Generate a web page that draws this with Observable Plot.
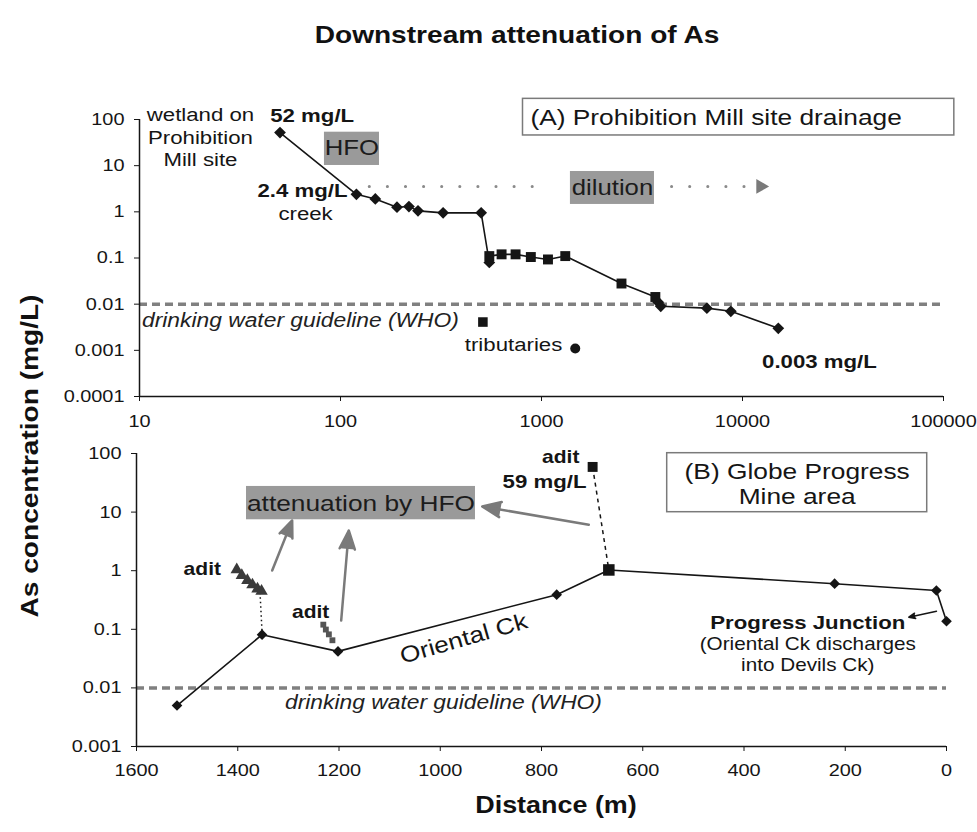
<!DOCTYPE html>
<html><head><meta charset="utf-8">
<script src="https://cdn.jsdelivr.net/npm/d3@7"></script>
<script src="https://cdn.jsdelivr.net/npm/@observablehq/plot@0.6"></script>
<style>
body{margin:0;background:#fff;font-family:"Liberation Sans",Arial,sans-serif;color:#111;}
#wrap{position:relative;width:977px;height:832px;overflow:hidden;background:#fff;}
.lab{position:absolute;text-align:center;font-weight:bold;height:30px;line-height:30px;white-space:nowrap;}
#title{left:217px;width:600px;top:20px;font-size:24px;transform:scaleX(1.17);}
#ylab{left:-270px;width:600px;top:441px;font-size:24px;transform:rotate(-90deg) scaleX(1.17);}
#xlab{left:256px;width:600px;top:790px;font-size:23px;transform:scaleX(1.17);}
</style></head>
<body><div id="wrap">
<div id="title" class="lab">Downstream attenuation of As</div>
<div id="ylab" class="lab">As concentration (mg/L)</div>
<div id="xlab" class="lab">Distance (m)</div>
</div>
<script>
// ---------- Panel A: Prohibition Mill site drainage ----------
const aXTicks = [10, 100, 1000, 10000, 100000];
const aYTicks = [0.0001, 0.001, 0.01, 0.1, 1, 10, 100];
const aDist = [50, 120, 149, 191, 219, 243, 324, 501, 550, 550, 633, 743, 885, 1077, 1313, 2500, 3685, 3808, 3920, 6650, 8750, 15070];
const aConc = [52, 2.4, 1.9, 1.26, 1.3, 1.05, 0.95, 0.95, 0.08, 0.11, 0.12, 0.12, 0.105, 0.093, 0.11, 0.028, 0.0143, 0.011, 0.009, 0.0082, 0.007, 0.003];
const aSymbol = ["diamond2","diamond2","diamond2","diamond2","diamond2","diamond2","diamond2","diamond2","diamond2","square","square","square","square","square","square","square","square","diamond2","diamond2","diamond2","diamond2","diamond2"];
const tribDist = [511, 1472];
const tribConc = [0.0041, 0.0011];
const tribSymbol = ["square", "circle"];
const guideline = [0.01];

// annotations, in data units
const aPlain = [{x: 20.1, y: 42.9, text: "wetland on\nProhibition\nMill site"}, {x: 67, y: 0.94, text: "creek"}, {x: 726, y: 0.00135, text: "tributaries"}];
const aBold = [{x: 72.3, y: 122, text: "52 mg/L"}, {x: 64.7, y: 2.9, text: "2.4 mg/L"}, {x: 24150, y: 0.00056, text: "0.003 mg/L"}];
const aItalic = [{x: 63.2, y: 0.00446, text: "drinking water guideline (WHO)"}];
const aGrayBoxes = [{x1: 83.2, x2: 156.3, y1: 10.1, y2: 53.1}, {x1: 1393, x2: 3648, y1: 1.445, y2: 7.48}];
const aGrayText = [{x: 114, y: 23.6, text: "HFO"}, {x: 2254, y: 3.29, text: "dilution"}];
const aFrame = [{x1: 809, x2: 113200, y1: 45.1, y2: 280}];
const aFrameText = [{x: 881, y: 110, text: "(A) Prohibition Mill site drainage"}];
const aDilution = [{x1: 139, x2: 1047, y: 3.55}, {x1: 4436, x2: 10960, y: 3.55}];
const aDilutionHead = [{x: 12300, y: 3.55}];

// ---------- Panel B: Globe Progress Mine area ----------
const bXTicks = [1600, 1400, 1200, 1000, 800, 600, 400, 200, 0];
const bYTicks = [0.001, 0.01, 0.1, 1, 10, 100];
const bDist = [1520, 1352, 1202, 770, 667, 221, 20, 0];
const bConc = [0.005, 0.081, 0.042, 0.39, 1.03, 0.60, 0.46, 0.137];
const bSymbol = ["diamond2","diamond2","diamond2","diamond2","square","diamond2","diamond2","diamond2"];
const aditTopDist = [699];
const aditTopConc = [59];
const aditTriDist = [1402, 1392, 1381, 1371, 1361, 1353];
const aditTriConc = [1.04, 0.83, 0.68, 0.575, 0.49, 0.447];
const aditSqDist = [1231, 1226, 1220, 1213];
const aditSqConc = [0.12, 0.099, 0.082, 0.065];

const bBold = [{x: 1470, y: 1.08, text: "adit", s: 18}, {x: 1256, y: 0.196, text: "adit", s: 18}, {x: 762, y: 86.4, text: "adit", s: 18}, {x: 794, y: 32.4, text: "59 mg/L", s: 19}, {x: 274, y: 0.127, text: "Progress Junction", s: 19}];
const bPlain = [{x: 274, y: 0.0376, text: "(Oriental Ck discharges\ninto Devils Ck)"}];
const bItalic = [{x: 993.6, y: 0.00564, text: "drinking water guideline (WHO)"}];
const bGrayBoxes = [{x1: 1382.7, x2: 930.4, y1: 7.39, y2: 27.4}];
const bGrayText = [{x: 1156.5, y: 14, text: "attenuation by HFO"}];
const bFrame = [{x1: 551.7, x2: 38.1, y1: 9.96, y2: 101.2}];
const bFrameText = [{x: 295, y: 30.2, text: "(B) Globe Progress\nMine area"}];
const bCreek = [{x: 953.5, y: 0.0689, text: "Oriental Ck"}];
const bGrayArrows = [{x1: 1332, y1: 1.008, x2: 1292.5, y2: 7.19}, {x1: 1195.7, y1: 0.141, x2: 1180.6, y2: 4.85}, {x1: 706.6, y1: 6.07, x2: 917.1, y2: 12.5}];
const bBlackArrow = [{x1: 19.8, y1: 0.204, x2: 74.5, y2: 0.161}];
const bDotted = [{x1: 1356, y1: 0.42, x2: 1352, y2: 0.09}];

const FONT = "Liberation Sans, Arial, Helvetica, sans-serif";
const K = 1.17;
const fmt = d => String(d);
const ink = "#151515";

const aRows = aDist.map((d, i) => ({d, c: aConc[i], s: aSymbol[i]}));
const tribRows = tribDist.map((d, i) => ({d, c: tribConc[i], s: tribSymbol[i]}));
const bRows = bDist.map((d, i) => ({d, c: bConc[i], s: bSymbol[i]}));
const triRows = aditTriDist.map((d, i) => ({d, c: aditTriConc[i]}));
const sqRows = aditSqDist.map((d, i) => ({d, c: aditSqConc[i]}));
const topRows = aditTopDist.map((d, i) => ({d, c: aditTopConc[i]}));

function stretch(svg) {
  svg.querySelectorAll("text").forEach(t => {
    const tr = t.getAttribute("transform");
    if (tr && tr.includes("translate")) t.setAttribute("transform", tr + ` scale(${K},1)`);
  });
}

const chartA = Plot.plot({
  width: 977, height: 440,
  marginLeft: 139, marginRight: 34, marginTop: 119, marginBottom: 44,
  style: {fontFamily: FONT, fontSize: "17px", color: ink, background: "transparent", overflow: "visible"},
  x: {type: "log", domain: [10, 100000], ticks: aXTicks, tickFormat: fmt, tickSize: 5, tickPadding: 13, label: null},
  y: {type: "log", domain: [0.0001, 100], ticks: aYTicks, tickFormat: fmt, tickSize: 5, tickPadding: 10, label: null},
  marks: [
    Plot.ruleY(guideline, {stroke: "#808080", strokeWidth: 3.5, strokeDasharray: "8,5"}),
    Plot.rect(aGrayBoxes, {x1: "x1", x2: "x2", y1: "y1", y2: "y2", fill: "#9a9a9a"}),
    Plot.rect(aFrame, {x1: "x1", x2: "x2", y1: "y1", y2: "y2", fill: "white", stroke: "#7a7a7a", strokeWidth: 1.5}),
    Plot.link(aDilution, {x1: "x1", x2: "x2", y1: "y", y2: "y", stroke: "#8a8a8a", strokeWidth: 3, strokeDasharray: "0.1,18", strokeLinecap: "round"}),
    Plot.dot(aDilutionHead, {x: "x", y: "y", symbol: "triangle", r: 5.5, rotate: 90, fill: "#7a7a7a"}),
    Plot.line(aRows, {x: "d", y: "c", stroke: ink, strokeWidth: 1.6}),
    Plot.dot(aRows.filter(r => r.s === "diamond2"), {x: "d", y: "c", symbol: "diamond2", r: 5.3, fill: ink}),
    Plot.dot(aRows.filter(r => r.s === "square"), {x: "d", y: "c", symbol: "square", r: 5.6, fill: ink}),
    Plot.dot(tribRows.filter(r => r.s === "square"), {x: "d", y: "c", symbol: "square", r: 5.4, fill: ink}),
    Plot.dot(tribRows.filter(r => r.s === "circle"), {x: "d", y: "c", symbol: "circle", r: 5, fill: ink}),
    Plot.ruleY([0.0001], {stroke: ink, strokeWidth: 1.5}),
    Plot.ruleX([10], {stroke: ink, strokeWidth: 1.5}),
    Plot.text(aPlain, {x: "x", y: "y", text: "text", fontSize: 19, lineHeight: 1.18, fill: ink}),
    Plot.text(aBold, {x: "x", y: "y", text: "text", fontSize: 19, fontWeight: "bold", fill: ink}),
    Plot.text(aItalic, {x: "x", y: "y", text: "text", fontSize: 19.5, fontStyle: "italic", fill: "#222"}),
    Plot.text(aGrayText, {x: "x", y: "y", text: "text", fontSize: 22, fill: "#1c1c1c"}),
    Plot.text(aFrameText, {x: "x", y: "y", text: "text", fontSize: 22.5, textAnchor: "start", fill: ink})
  ]
});
chartA.style.position = "absolute"; chartA.style.left = "0px"; chartA.style.top = "0px";
stretch(chartA);

const chartB = Plot.plot({
  width: 977, height: 392,
  marginLeft: 136, marginRight: 31, marginTop: 13, marginBottom: 86,
  style: {fontFamily: FONT, fontSize: "17px", color: ink, background: "transparent", overflow: "visible"},
  x: {type: "linear", domain: [1600, 0], ticks: bXTicks, tickFormat: fmt, tickSize: 5, tickPadding: 12, label: null},
  y: {type: "log", domain: [0.001, 100], ticks: bYTicks, tickFormat: fmt, tickSize: 5, tickPadding: 10, label: null},
  marks: [
    Plot.ruleY(guideline, {stroke: "#808080", strokeWidth: 3.5, strokeDasharray: "8,5"}),
    Plot.rect(bGrayBoxes, {x1: "x1", x2: "x2", y1: "y1", y2: "y2", fill: "#9a9a9a"}),
    Plot.rect(bFrame, {x1: "x1", x2: "x2", y1: "y1", y2: "y2", fill: "white", stroke: "#7a7a7a", strokeWidth: 1.5}),
    Plot.arrow(bGrayArrows, {x1: "x1", y1: "y1", x2: "x2", y2: "y2", stroke: "#7a7a7a", fill: "#7a7a7a", strokeWidth: 2.5, headLength: 12, headAngle: 45}),
    Plot.arrow(bBlackArrow, {x1: "x1", y1: "y1", x2: "x2", y2: "y2", stroke: ink, fill: ink, strokeWidth: 1.5, headLength: 7, headAngle: 45}),
    Plot.link(bDotted, {x1: "x1", y1: "y1", x2: "x2", y2: "y2", stroke: ink, strokeWidth: 1.5, strokeDasharray: "1.5,3"}),
    Plot.link([{x1: aditTopDist[0], y1: aditTopConc[0], x2: bDist[4], y2: bConc[4]}], {x1: "x1", y1: "y1", x2: "x2", y2: "y2", stroke: ink, strokeWidth: 1.5, strokeDasharray: "4,4"}),
    Plot.line(bRows, {x: "d", y: "c", stroke: ink, strokeWidth: 1.6}),
    Plot.dot(bRows.filter(r => r.s === "diamond2"), {x: "d", y: "c", symbol: "diamond2", r: 4.8, fill: ink}),
    Plot.dot(bRows.filter(r => r.s === "square"), {x: "d", y: "c", symbol: "square", r: 6.5, fill: ink}),
    Plot.dot(topRows, {x: "d", y: "c", symbol: "square", r: 5.6, fill: ink}),
    Plot.dot(triRows, {x: "d", y: "c", symbol: "triangle", r: 4.6, fill: "#3a3a3a"}),
    Plot.dot(sqRows, {x: "d", y: "c", symbol: "square", r: 3.3, fill: "#555"}),
    Plot.ruleY([0.001], {stroke: ink, strokeWidth: 1.5}),
    Plot.ruleX([1600], {stroke: ink, strokeWidth: 1.5}),
    Plot.text(bBold.filter(d => d.s === 18), {x: "x", y: "y", text: "text", fontSize: 18, fontWeight: "bold", fill: ink}),
    Plot.text(bBold.filter(d => d.s === 19), {x: "x", y: "y", text: "text", fontSize: 19, fontWeight: "bold", fill: ink}),
    Plot.text(bPlain, {x: "x", y: "y", text: "text", fontSize: 17.7, lineHeight: 1.17, fill: ink}),
    Plot.text(bItalic, {x: "x", y: "y", text: "text", fontSize: 19.5, fontStyle: "italic", fill: "#222"}),
    Plot.text(bGrayText, {x: "x", y: "y", text: "text", fontSize: 22.5, fill: "#1c1c1c"}),
    Plot.text(bFrameText, {x: "x", y: "y", text: "text", fontSize: 22.5, lineHeight: 1.11, fill: ink}),
    Plot.text(bCreek, {x: "x", y: "y", text: "text", fontSize: 22.5, rotate: -16, fill: ink})
  ]
});
chartB.style.position = "absolute"; chartB.style.left = "0px"; chartB.style.top = "440px";
stretch(chartB);

const wrap = document.getElementById("wrap");
wrap.appendChild(chartA);
wrap.appendChild(chartB);
</script>
</body></html>
